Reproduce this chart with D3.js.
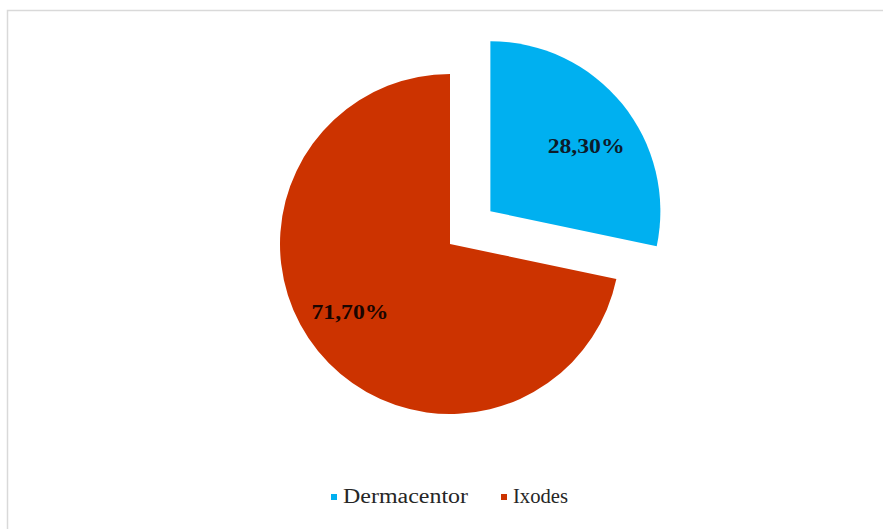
<!DOCTYPE html>
<html>
<head>
<meta charset="utf-8">
<script src="https://cdn.jsdelivr.net/npm/d3@7"></script>
<style>
  body { margin: 0; background: #fff; }
</style>
</head>
<body>
<div class="svg-container"></div>
<script>
    const width = 883;
    const height = 529;

    const categories = ["Dermacentor", "Ixodes"];
    const values = [28.3, 71.7];
    const value_labels = ["28,30%", "71,70%"];
    const colors = ["#00b0f0", "#cc3300"];

    const svg = d3.select('.svg-container').append('svg')
        .attr('width', width).attr('height', height)
        .style("font-family", "'Liberation Serif', 'Times New Roman', serif");

    // chart frame
    svg.append('rect')
        .attr('x', 7.5).attr('y', 10.5)
        .attr('width', width + 20).attr('height', height + 20)
        .attr('fill', '#fff')
        .attr('stroke', '#d9d9d9')
        .attr('stroke-width', 1.5);

    const cx = 450, cy = 244, radius = 170;
    const explode = 52;

    const pie = d3.pie().sort(null).value(d => d.value);
    const arcs = pie(categories.map((c, i) => ({name: c, value: values[i], label: value_labels[i], color: colors[i]})));

    const arc = d3.arc().innerRadius(0).outerRadius(radius);
    // labels sit a little clockwise of the slice middle
    const label_shift = 5 * Math.PI / 180;
    const label_r = [0.68, 0.71];
    function labelPos(d) {
        const a = (d.startAngle + d.endAngle) / 2 + label_shift;
        const r = radius * label_r[d.index];
        return [r * Math.sin(a), -r * Math.cos(a)];
    }

    const g = svg.append('g').attr('transform', `translate(${cx},${cy})`);

    const slices = g.selectAll('g.slice')
        .data(arcs)
        .enter().append('g')
        .attr('class', 'slice')
        .attr('transform', d => {
            if (d.index !== 0) return null;
            const mid = (d.startAngle + d.endAngle) / 2;
            return `translate(${explode * Math.sin(mid)},${-explode * Math.cos(mid)})`;
        });

    slices.append('path')
        .attr('d', arc)
        .attr('fill', d => d.data.color);

    slices.append('text')
        .attr('transform', d => `translate(${labelPos(d)})`)
        .attr('text-anchor', 'middle')
        .attr('dy', '0.35em')
        .attr('font-weight', 'bold')
        .attr('font-size', 20)
        .attr('textLength', 77)
        .attr('lengthAdjust', 'spacingAndGlyphs')
        .attr('fill', d => d.index === 0 ? '#0d1b2a' : '#1a0500')
        .text(d => d.data.label);

    // legend
    const legend_x = [331, 501];
    const legend_w = [125, 55];
    const legend = svg.append('g').attr('class', 'legend');
    const items = legend.selectAll('g')
        .data(categories)
        .enter().append('g')
        .attr('transform', (d, i) => `translate(${legend_x[i]},503)`);
    items.append('rect')
        .attr('x', 0).attr('y', -9)
        .attr('width', 6).attr('height', 6)
        .attr('fill', (d, i) => colors[i]);
    items.append('text')
        .attr('x', 12)
        .attr('font-size', 20)
        .attr('font-family', "'Liberation Serif', serif")
        .attr('fill', '#262626')
        .attr('textLength', (d, i) => legend_w[i])
        .attr('lengthAdjust', 'spacingAndGlyphs')
        .text(d => d);
</script>
</body>
</html>
